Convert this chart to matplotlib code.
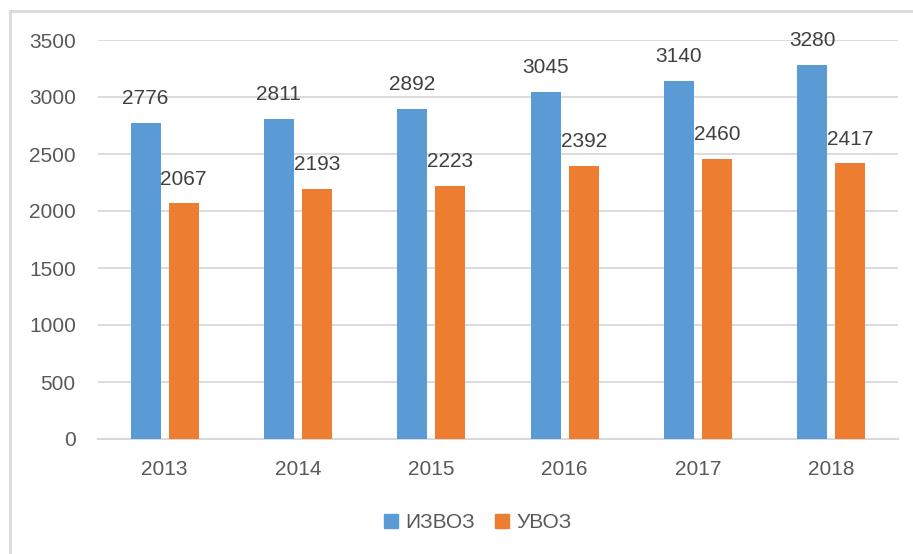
import matplotlib
matplotlib.use("Agg")
import matplotlib.pyplot as plt
from matplotlib.lines import Line2D
import numpy as np

years = ["2013", "2014", "2015", "2016", "2017", "2018"]
izvoz = [2776, 2811, 2892, 3045, 3140, 3280]
uvoz = [2067, 2193, 2223, 2392, 2460, 2417]
series_names = ["ИЗВОЗ", "УВОЗ"]
yticks = [0, 500, 1000, 1500, 2000, 2500, 3000, 3500]

plt.rcParams['font.family'] = ['Liberation Sans', 'DejaVu Sans']

blue = "#5B9BD5"
orange = "#ED7D31"
grid = "#D9D9D9"
tick_col = "#595959"
lab_col = "#404040"

fig = plt.figure(figsize=(9.13, 5.54), dpi=100)
ax = fig.add_axes([98/913, 1-439/554, 800/913, 399/554])

x = np.arange(len(years))
w = 0.225
off = 0.143
b1 = ax.bar(x - off, izvoz, w, color=blue, zorder=3)
b2 = ax.bar(x + off, uvoz, w, color=orange, zorder=3)

for rect, v in zip(b1, izvoz):
    ax.text(rect.get_x() + rect.get_width()/2, v + 130, str(v), ha='center', va='bottom',
            fontsize=15, color=lab_col, zorder=4)
for rect, v in zip(b2, uvoz):
    ax.text(rect.get_x() + rect.get_width()/2, v + 130, str(v), ha='center', va='bottom',
            fontsize=15, color=lab_col, zorder=4)

ax.set_xlim(-0.5, len(years) - 0.5)
ax.set_ylim(0, 3500)
ax.set_yticks(yticks)
ax.set_yticklabels([str(t) for t in yticks])
ax.set_xticks(x)
ax.set_xticklabels(years)
ax.tick_params(axis='both', length=0, labelsize=15, labelcolor=tick_col)
ax.tick_params(axis='y', pad=16)
ax.tick_params(axis='x', pad=15)
ax.yaxis.grid(True, color=grid, linewidth=1.3, zorder=0)
for s in ['top', 'right', 'left']:
    ax.spines[s].set_visible(False)
ax.spines['bottom'].set_color(grid)
ax.spines['bottom'].set_linewidth(1.5)

handles = [Line2D([], [], marker='s', linestyle='', markersize=10, color=blue),
           Line2D([], [], marker='s', linestyle='', markersize=10, color=orange)]
fig.legend(handles, series_names, loc='center', bbox_to_anchor=(476/913, 1-523/554),
           ncol=2, frameon=False, fontsize=15, labelcolor=tick_col,
           handletextpad=0.2, columnspacing=0.8, handlelength=1.0)

# outer chart border
fig.add_artist(Line2D([10/913, 10/913], [0, 1-11/554], color=grid, linewidth=2, transform=fig.transFigure))
fig.add_artist(Line2D([10/913, 1], [1-11/554, 1-11/554], color=grid, linewidth=2, transform=fig.transFigure))

fig.savefig("out.png", dpi=100)
